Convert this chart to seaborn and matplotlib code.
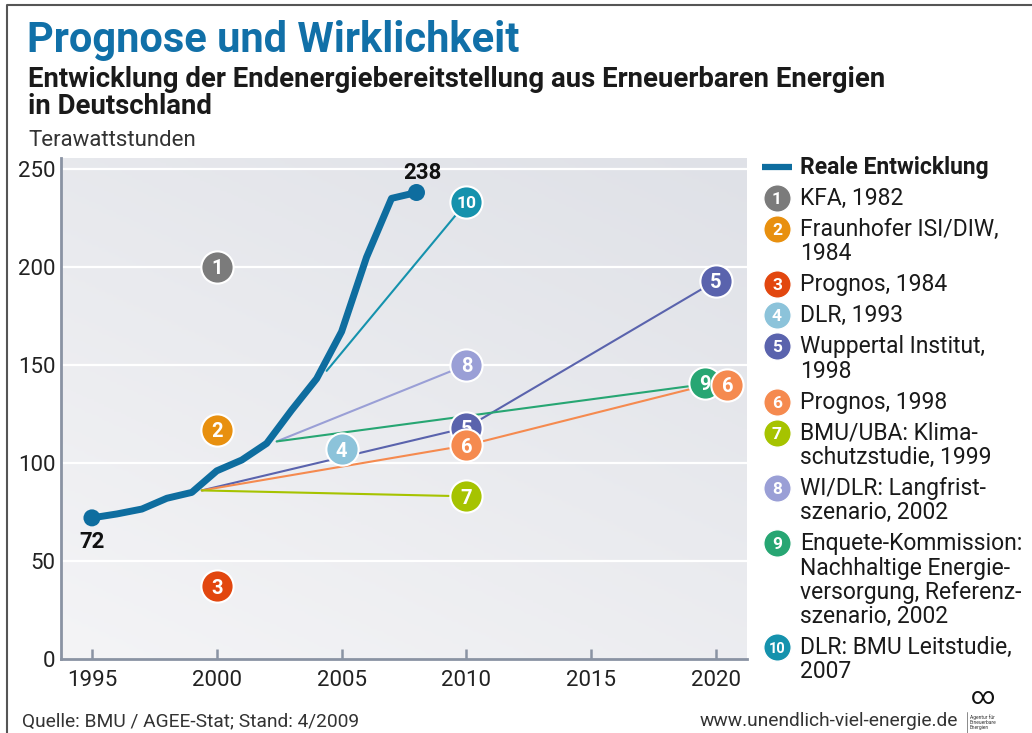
import numpy as np
import pandas as pd
import matplotlib
matplotlib.use("Agg")
import matplotlib.pyplot as plt
import seaborn as sns

# Reale Entwicklung (TWh)
real_years = [1995, 1996, 1997, 1998, 1999, 2000, 2001, 2002, 2003, 2004, 2005, 2006, 2007, 2008]
real_twh = [72, 74, 76.5, 82, 85, 96, 101.5, 110, 127, 143, 167, 205, 235, 238]

study_ids = [1, 2, 3, 4, 5, 6, 7, 8, 9, 10]
study_labels = [
    "KFA, 1982",
    "Fraunhofer ISI/DIW,\n1984",
    "Prognos, 1984",
    "DLR, 1993",
    "Wuppertal Institut,\n1998",
    "Prognos, 1998",
    "BMU/UBA: Klima-\nschutzstudie, 1999",
    "WI/DLR: Langfrist-\nszenario, 2002",
    "Enquete-Kommission:\nNachhaltige Energie-\nversorgung, Referenz-\nszenario, 2002",
    "DLR: BMU Leitstudie,\n2007",
]
study_colors = ["#7b7b7b", "#e8900f", "#e2470f", "#8cc3da", "#5a63ad",
                "#f58a4f", "#a6c300", "#9a9fd6", "#27a673", "#1592ad"]

# Prognosepfade (starten auf der realen Kurve)
line_ids = [5, 5, 5, 6, 6, 6, 7, 7, 8, 8, 9, 9, 10, 10]
line_years = [1999.4, 2010, 2020, 1999.4, 2010, 2020, 1999.4, 2010, 2002.4, 2010, 2002.4, 2020, 2004.4, 2010]
line_twh = [86, 118, 193, 86, 109, 141, 86, 83, 111, 150, 111, 141, 147, 233]

# Prognosewerte (Zeichenreihenfolge)
marker_ids = [1, 2, 3, 4, 5, 5, 9, 6, 6, 7, 8, 10]
marker_years = [2000, 2000, 2000, 2005, 2010, 2020, 2020, 2010, 2020, 2010, 2010, 2010]
marker_twh = [200, 117, 37, 107, 118, 193, 141, 109, 140, 83, 150, 233]

sns.set_theme(style="white")
plt.rcParams["font.family"] = ["Roboto", "DejaVu Sans"]

BLUE = "#0e6d9f"
AXIS = "#8a93a3"
colors = dict(zip(study_ids, study_colors))

fig = plt.figure(figsize=(10.32, 7.33), dpi=100)
fig.patch.set_facecolor("white")
ax = fig.add_axes([61 / 1032, 74 / 733, 686 / 1032, 501 / 733])

x0, x1, y0, y1 = 1993.76, 2021.24, 0, 255.6
ax.set_xlim(x0, x1)
ax.set_ylim(y0, y1)

# Hintergrundverlauf
gx, gy = np.meshgrid(np.linspace(0, 1, 200), np.linspace(0, 1, 200))
grad = (gx * 0.5 + gy * 0.8) / 1.3
cmap = matplotlib.colors.LinearSegmentedColormap.from_list("bg", ["#f4f4f6", "#dfe1e7"])
ax.imshow(grad, extent=[x0, x1, y0, y1], origin="lower", aspect="auto", cmap=cmap, zorder=0)

for v in [50, 100, 150, 200, 250]:
    ax.axhline(v, color="white", lw=1.6, zorder=1)

lines = pd.DataFrame({"id": line_ids, "year": line_years, "twh": line_twh})
sns.lineplot(data=lines, x="year", y="twh", hue="id", palette=colors, units="id",
             estimator=None, sort=False, lw=1.5, legend=False, ax=ax, zorder=2)

real = pd.DataFrame({"year": real_years, "twh": real_twh})
sns.lineplot(data=real, x="year", y="twh", color=BLUE, lw=5, ax=ax, zorder=3,
             solid_joinstyle="round", solid_capstyle="round")
ends = real.iloc[[0, -1]]
sns.scatterplot(data=ends, x="year", y="twh", color=BLUE, s=150, edgecolor="none", ax=ax, zorder=3)

ax.annotate("72", (real_years[0], real_twh[0]), xytext=(0, -22), textcoords="offset points",
            ha="center", va="baseline", fontsize=16, fontweight="bold", color="#111111")
ax.annotate("238", (real_years[-1], real_twh[-1]), xytext=(4, 10), textcoords="offset points",
            ha="center", va="baseline", fontsize=16, fontweight="bold", color="#111111")

# Nummernkreise, leicht versetzt wo sie sich ueberlagern
nudge = {(9, 2020): -0.45, (6, 2020): 0.45}
for k, (sid, yr, val) in enumerate(zip(marker_ids, marker_years, marker_twh)):
    xx = yr + nudge.get((sid, yr), 0)
    z = 5 + k * 0.1
    ax.scatter([xx], [val], s=540, color=colors[sid], edgecolor="white", linewidth=1.5, zorder=z)
    ax.text(xx, val, str(sid), ha="center", va="center_baseline", color="white",
            fontsize=12.5 if sid == 10 else 14.5, fontweight="bold", zorder=z + 0.05)

ax.set_xticks([1995, 2000, 2005, 2010, 2015, 2020])
ax.set_yticks([0, 50, 100, 150, 200, 250])
ax.set_xlabel("")
ax.set_ylabel("")
ax.grid(False)
for s in ["top", "right"]:
    ax.spines[s].set_visible(False)
for s in ["left", "bottom"]:
    ax.spines[s].set_color(AXIS)
    ax.spines[s].set_linewidth(2)
ax.tick_params(axis="x", direction="in", length=7, width=1.8, color=AXIS, pad=8,
               labelsize=16, labelcolor="#222222", bottom=True)
ax.tick_params(axis="y", length=0, pad=4, labelsize=16, labelcolor="#222222")

# Ueberlagerung in Pixelkoordinaten fuer Texte, Legende, Rahmen
ov = fig.add_axes([0, 0, 1, 1], zorder=10)
ov.set_xlim(0, 1032)
ov.set_ylim(733, 0)
ov.axis("off")
ov.patch.set_alpha(0)

ov.plot([7, 7, 1032], [733, 5, 5], color="#555555", lw=1.5)

ov.text(27, 52, "Prognose und Wirklichkeit", fontsize=30, fontweight="bold", color="#1170a8", va="baseline")
ov.text(28, 87, "Entwicklung der Endenergiebereitstellung aus Erneuerbaren Energien",
        fontsize=19.8, fontweight="bold", color="#1a1a1a", va="baseline")
ov.text(28, 114, "in Deutschland", fontsize=19.8, fontweight="bold", color="#1a1a1a", va="baseline")
ov.text(28, 146, "Terawattstunden", fontsize=16, color="#333333", va="baseline")

# Legende
ov.plot([762, 792], [167, 167], color=BLUE, lw=4.5, solid_capstyle="butt")
ov.text(800, 174, "Reale Entwicklung", fontsize=16.5, fontweight="bold", color="#1a1a1a", va="baseline")
row = 198
for sid, lab, col in zip(study_ids, study_labels, study_colors):
    ov.scatter([777], [row], s=390, color=col, edgecolor="white", linewidth=1, zorder=3)
    ov.text(777, row, str(sid), ha="center", va="center_baseline", color="white",
            fontsize=10.5 if sid == 10 else 12.5, fontweight="bold", zorder=4)
    parts = lab.split("\n")
    for j, part in enumerate(parts):
        ov.text(800, row + 7 + j * 24.3, part, fontsize=16.5, color="#1a1a1a", va="baseline")
    row += 31 + (len(parts) - 1) * 24.3

ov.text(22, 726, "Quelle: BMU / AGEE-Stat; Stand: 4/2009", fontsize=13.8, color="#333333", va="baseline")
ov.text(958, 726, "www.unendlich-viel-energie.de", fontsize=13.8, color="#333333", va="baseline", ha="right")
ov.text(983, 697, "\u221e", fontsize=17, color="#111111", ha="center", va="center")
ov.text(970, 722, "Agentur für\nErneuerbare\nEnergien", fontsize=3.5, color="#333333",
        va="center", linespacing=1.0)
ov.plot([967, 967, 1000], [712, 733, 733], color="#777777", lw=0.6)

fig.savefig("out.png", dpi=100)
